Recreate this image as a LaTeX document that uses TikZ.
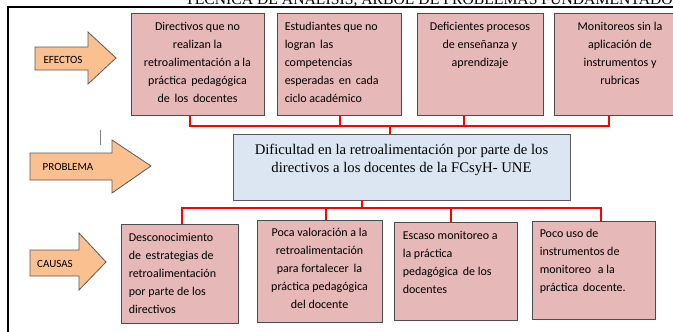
\documentclass[tikz,border=0pt]{standalone}
\usepackage{fontspec}
\setmainfont{Carlito}
\newfontfamily\serifface{Liberation Serif}
\usetikzlibrary{positioning}

\definecolor{effpink}{HTML}{E6B8B7}
\definecolor{probblue}{HTML}{DCE6F2}
\definecolor{arroworange}{HTML}{FAC090}

\tikzset{
  effbox/.style={draw=black!70, line width=0.9pt, fill=effpink, inner sep=0pt},
  probbox/.style={draw=black!65, line width=0.9pt, fill=probblue, inner sep=0pt},
  boxtext/.style={inner sep=0pt, font=\fontsize{12}{18}\selectfont},
  probtext/.style={inner sep=0pt, align=center, font=\serifface\fontsize{14.7}{18}\selectfont},
  link/.style={draw=red, line width=1.3pt},
  sidearrow/.style={draw=black!65, line width=0.8pt, fill=arroworange},
  arrowlabel/.style={inner sep=0pt, font=\fontsize{11}{13}\selectfont}
}

\begin{document}
\begin{tikzpicture}[x=1pt, y=-1pt]
    \useasboundingbox (0,0) rectangle (673,332);

    % Title (cut off at the top)
    \begin{scope}
      \clip (0,0) rectangle (673,6);
      \node[inner sep=0pt, anchor=base, font=\serifface\fontsize{15.7}{18}\selectfont] (title) at (429,5) {TÉCNICA DE ANÁLISIS, ÁRBOL DE PROBLEMAS FUNDAMENTADO};
    \end{scope}

    % Frame
    \draw[line width=2pt] (8,332) -- (8,7) -- (673,7);
    \draw[gray, line width=0.8pt] (100,130) -- (100,145);

    % Side arrows
    \draw[sidearrow] (35,47) -- (88,47) -- (88,32) -- (116,58) -- (88,84) -- (88,70) -- (35,70) -- cycle;
    \node[arrowlabel] (efectos) at (63,60) {EFECTOS};

    \draw[sidearrow] (30,153) -- (112,153) -- (112,140) -- (151,166) -- (112,193) -- (112,180) -- (30,180) -- cycle;
    \node[arrowlabel] (problema) at (68,167) {PROBLEMA};

    \draw[sidearrow] (30,250) -- (79,250) -- (79,233) -- (106,262) -- (79,290) -- (79,276) -- (30,276) -- cycle;
    \node[arrowlabel] (causas) at (55,264) {CAUSAS};

    % Effects
    \node[effbox, minimum width=133, minimum height=102] (ef1) at (197.5,64) {};
    \node[effbox, minimum width=124, minimum height=102] (ef2) at (339,64) {};
    \node[effbox, minimum width=126, minimum height=102] (ef3) at (480,64) {};
    \node[effbox, minimum width=132, minimum height=102] (ef4) at (620,64) {};

    \node[boxtext, align=center, anchor=north] (ef1txt) at ([yshift=-9pt]ef1.north) {Directivos que no\\realizan la\\retroalimentación a la\\práctica\, pedagógica\\de\, los\, docentes};
    \node[boxtext, align=left, anchor=north west] (ef2txt) at ([xshift=8pt, yshift=-9pt]ef2.north west) {Estudiantes que no\\logran\, las\\competencias\\esperadas\, en\, cada\\ciclo académico};
    \node[boxtext, align=center, anchor=north] (ef3txt) at ([yshift=-9pt]ef3.north) {Deficientes procesos\\de enseñanza y\\aprendizaje};
    \node[boxtext, align=center, anchor=north] (ef4txt) at ([yshift=-9pt]ef4.north) {Monitoreos sin la\\aplicación de\\instrumentos y\\rubricas};

    % Problem
    \node[probbox, minimum width=337, minimum height=66] (prob) at (401.5,167) {};
    \node[probtext, anchor=north] (probtxt) at ([yshift=-10pt]prob.north) {Dificultad en la retroalimentación por parte de los\\directivos a los docentes de la FCsyH- UNE};

    % Causes
    \node[effbox, minimum width=117, minimum height=99] (ca1) at (179.5,273.5) {};
    \node[effbox, minimum width=125, minimum height=102] (ca2) at (319.5,271) {};
    \node[effbox, minimum width=123, minimum height=98] (ca3) at (455.5,271) {};
    \node[effbox, minimum width=123, minimum height=98] (ca4) at (593.5,270) {};

    \node[boxtext, align=left, anchor=north west] (ca1txt) at ([xshift=8pt, yshift=-9pt]ca1.north west) {Desconocimiento\\de\, estrategias de\\retroalimentación\\por parte de los\\directivos};
    \node[boxtext, align=center, anchor=north] (ca2txt) at ([yshift=-8pt]ca2.north) {Poca valoración a la\\retroalimentación\\para fortalecer\, la\\práctica pedagógica\\del docente};
    \node[boxtext, align=left, anchor=north west] (ca3txt) at ([xshift=9pt, yshift=-9pt]ca3.north west) {Escaso monitoreo a\\la práctica\\pedagógica\, de los\\docentes};
    \node[boxtext, align=left, anchor=north west] (ca4txt) at ([xshift=8pt, yshift=-8pt]ca4.north west) {Poco uso de\\instrumentos de\\monitoreo\,\, a la\\práctica\, docente.};

    % Connectors
    \coordinate (tbus) at (390,126);
    \draw[link] ([xshift=-7.5pt]ef1.south) |- (tbus);
    \draw[link] ([xshift=-11pt]ef4.south) |- (tbus);
    \draw[link] ([xshift=1pt]ef2.south) -- ([xshift=1pt]ef2.south |- tbus);
    \draw[link] ([xshift=-16pt]ef3.south) -- ([xshift=-16pt]ef3.south |- tbus);
    \draw[link] (tbus) -- (tbus |- prob.north);

    \coordinate (bbus) at (362,208);
    \draw[link] (bbus |- prob.south) -- (bbus);
    \draw[link] (bbus) -| ([xshift=2.5pt]ca1.north);
    \draw[link] (bbus) -| ([xshift=7.5pt]ca4.north);
    \draw[link] ([xshift=6.5pt]ca2.north |- bbus) -- ([xshift=6.5pt]ca2.north);
    \draw[link] ([xshift=-4.5pt]ca3.north |- bbus) -- ([xshift=-4.5pt]ca3.north);

\end{tikzpicture}
\end{document}
